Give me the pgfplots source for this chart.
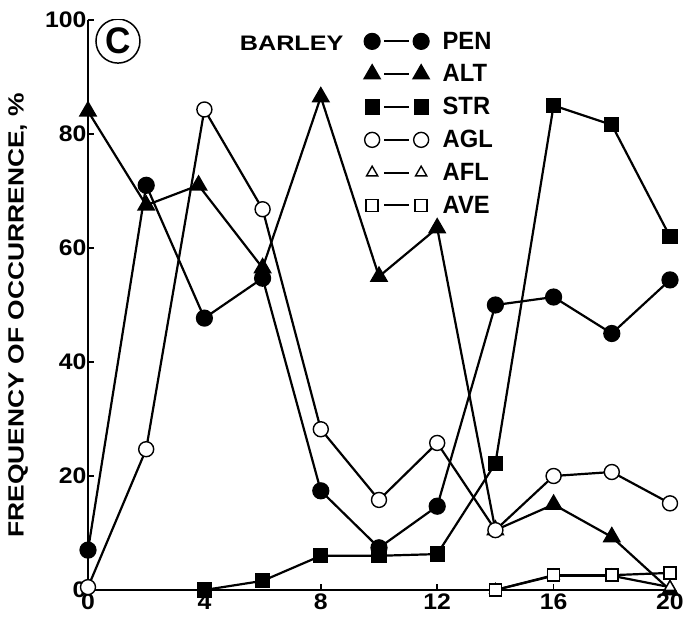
\documentclass[border=0pt]{standalone}
\usepackage{fontspec}
\setmainfont{Liberation Sans}
\newfontfamily\tickfont{Liberation Sans Bold}[FakeStretch=1.1]
\newfontfamily\labfont{Liberation Sans Bold}[FakeStretch=1.2]
\newfontfamily\legfont{Liberation Sans Bold}[FakeStretch=0.95]
\usepackage{pgfplots}
\pgfplotsset{compat=1.18}

\begin{document}
\begin{tikzpicture}
\useasboundingbox (-88pt,-28pt) rectangle (595pt,590pt);
\begin{axis}[
  at={(0pt,0pt)}, anchor=south west,
  scale only axis, width=582pt, height=570pt,
  xmin=0, xmax=20, ymin=0, ymax=100,
  axis x line=bottom, axis y line=left,
  axis line style={-, line width=2.4pt},
  xtick={0,4,...,20}, ytick={0,20,...,100},
  tick align=inside, major tick length=6pt,
  tick style={line width=1.5pt, black},
  ticklabel style={font=\tickfont\fontsize{22.5}{22.5}\selectfont},
  yticklabel style={xshift=2pt},
  /pgf/number format/assume math mode=true,
  ylabel={FREQUENCY OF OCCURRENCE, \%},
  ylabel style={at={(axis description cs:-0.12,0.482)}, anchor=center, font=\labfont\fontsize{22}{22}\selectfont},
  legend style={at={(axis cs:9.5,98.1)}, anchor=north west, draw=none, fill=none,
    inner sep=0pt, row sep=12pt, font=\legfont\fontsize{25}{25}\selectfont,
    nodes={inner sep=1pt},
    /tikz/every odd column/.append style={column sep=13pt}},
  legend cell align=left,
  legend image code/.code={
    \draw[#1, only marks] plot coordinates {(0pt,0pt) (49pt,0pt)};
    \draw[#1, mark=none] (12pt,0pt) -- (37pt,0pt);
  },
  every axis plot/.append style={black, line width=2.2pt},
]
\addplot[mark=*, mark size=7.5pt] coordinates {
  (0,7) (2,71) (4,47.7) (6,54.7) (8,17.4) (10,7.4) (12,14.7) (14,50) (16,51.4) (18,45) (20,54.4)};
\addlegendentry{PEN}
\addplot[mark=triangle*, mark size=8.5pt] coordinates {
  (0,84) (2,67.5) (3.8,71) (6,56.5) (8,86.5) (10,55) (12,63.5) (14,10.5) (16,15) (18,9.3) (20,0)};
\addlegendentry{ALT}
\addplot[mark=square*, mark size=6.5pt] coordinates {
  (4,0) (6,1.6) (8,6) (10,6) (12,6.3) (14,22.2) (16,85) (18,81.6) (20,62)};
\addlegendentry{STR}
\addplot[mark=*, mark size=7.5pt, mark options={fill=white, line width=1.4pt}] coordinates {
  (0,0.5) (2,24.7) (4,84.3) (6,66.8) (8,28.2) (10,15.8) (12,25.8) (14,10.5) (16,20) (18,20.7) (20,15.2)};
\addlegendentry{AGL}
\addplot[mark=triangle*, mark size=6.5pt, mark options={fill=white, line width=1.4pt}] coordinates {
  (14,0) (16,2.5) (18,2.5) (20,0.5)};
\addlegendentry{AFL}
\addplot[mark=square*, mark size=6pt, mark options={fill=white, line width=1.4pt}] coordinates {
  (14,0) (16,2.6) (18,2.6) (20,3)};
\addlegendentry{AVE}
\node[font=\labfont\fontsize{21}{21}\selectfont] at (axis cs:7.0,96) {BARLEY};
\node[circle, draw, line width=1.5pt, inner sep=0pt, minimum size=44pt,
  font=\legfont\fontsize{37}{37}\selectfont] at (axis cs:1.03,96.3) {C};
\end{axis}
\end{tikzpicture}
\end{document}
